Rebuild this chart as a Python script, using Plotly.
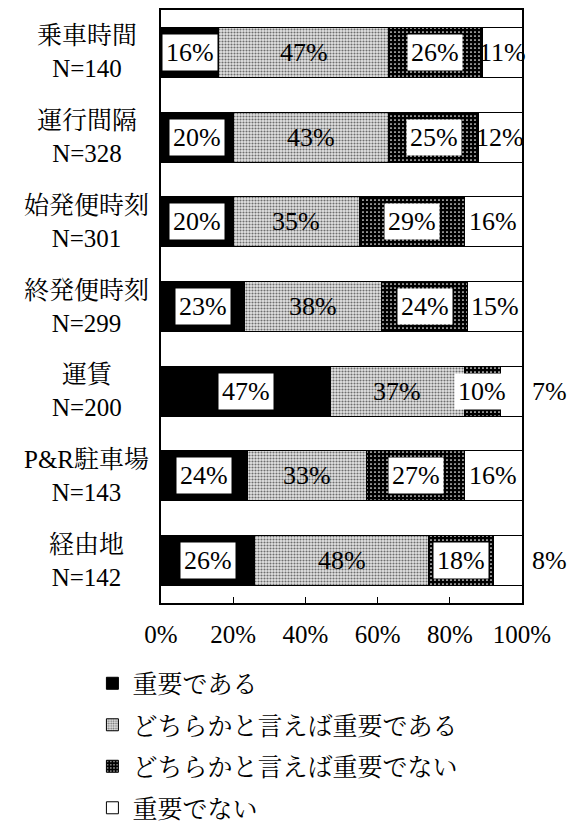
import plotly.graph_objects as go

# Survey items (top to bottom) and sample sizes
categories = ["乗車時間", "運行間隔", "始発便時刻", "終発便時刻", "運賃", "P&R駐車場", "経由地"]
sample_sizes = [140, 328, 301, 299, 200, 143, 142]

series_names = ["重要である", "どちらかと言えば重要である", "どちらかと言えば重要でない", "重要でない"]
important = [16, 20, 20, 23, 47, 24, 26]
rather_important = [47, 43, 35, 38, 37, 33, 48]
rather_unimportant = [26, 25, 29, 24, 10, 27, 18]
unimportant = [11, 12, 16, 15, 7, 16, 8]
series_values = [important, rather_important, rather_unimportant, unimportant]

# Rows whose last-segment label sits to the right of the frame
outside_last = ["運賃", "経由地"]

FONT = "Liberation Serif, Noto Serif CJK JP, Noto Sans CJK JP, serif"
FS = 25
FS_LABEL = 26

styles = [
    dict(color="black", pattern=dict(shape="")),
    dict(color="white", pattern=dict(shape=".", fgcolor="#6e6e6e", bgcolor="#e4e4e4",
                                     size=3, solidity=0.4, fillmode="replace")),
    dict(color="black", pattern=dict(shape=".", fgcolor="white", bgcolor="black",
                                     size=4, solidity=0.15, fillmode="replace")),
    dict(color="white", pattern=dict(shape="")),
]
label_box = [True, False, True, False]

fig = go.Figure()
for i, (name, vals) in enumerate(zip(series_names, series_values)):
    st = styles[i]
    fig.add_trace(go.Bar(
        y=categories, x=vals, name=name, orientation="h",
        legendgroup=f"g{i}",
        marker=dict(color=st["color"], line=dict(color="black", width=1),
                    pattern=st["pattern"]),
        hoverinfo="skip",
    ))

annotations = []
for r, cat in enumerate(categories):
    start = 0
    for i, vals in enumerate(series_values):
        v = vals[r]
        ann = dict(x=(start + v / 2) / 100, y=cat, xref="paper", yref="y",
                   xanchor="center", yanchor="middle",
                   text=f"{v}%", showarrow=False,
                   font=dict(family=FONT, size=FS_LABEL, color="black"))
        if i == len(series_values) - 1 and cat in outside_last:
            ann["x"] = 1.075
        if label_box[i]:
            ann.update(bgcolor="white", borderpad=3)
        annotations.append(ann)
        start += v
    annotations.append(dict(
        x=-0.205, y=cat, xref="paper", yref="y", xanchor="center", yanchor="middle",
        align="center", showarrow=False,
        text=f"{cat}<br>N={sample_sizes[r]}",
        font=dict(family=FONT, size=FS, color="black"),
    ))

fig.update_layout(
    width=569, height=827,
    margin=dict(l=161, r=47, t=10, b=224, autoexpand=False),
    paper_bgcolor="white", plot_bgcolor="white",
    barmode="stack", bargap=0.41,
    font=dict(family=FONT, size=FS, color="black"),
    annotations=annotations,
    showlegend=True,
    legend=dict(x=-0.19, y=-0.097, xanchor="left", yanchor="top",
                orientation="v", traceorder="grouped", tracegroupgap=6,
                font=dict(family=FONT, size=FS), bgcolor="rgba(0,0,0,0)"),
    xaxis=dict(range=[0, 100], tickvals=[0, 20, 40, 60, 80, 100],
               ticktext=["0%", "20%", "40%", "60%", "80%", "100%"],
               ticks="inside", ticklen=6, tickcolor="black", tickwidth=1,
               showgrid=False, zeroline=False, showline=True, mirror=True,
               linecolor="black", linewidth=1.5, ticklabelstandoff=8,
               tickfont=dict(family=FONT, size=FS)),
    yaxis=dict(categoryorder="array", categoryarray=categories,
               range=[6.5, -0.5], showticklabels=False, ticks="",
               showgrid=False, zeroline=False, showline=True, mirror=True,
               linecolor="black", linewidth=1.5),
)

fig.write_html("out.html")
